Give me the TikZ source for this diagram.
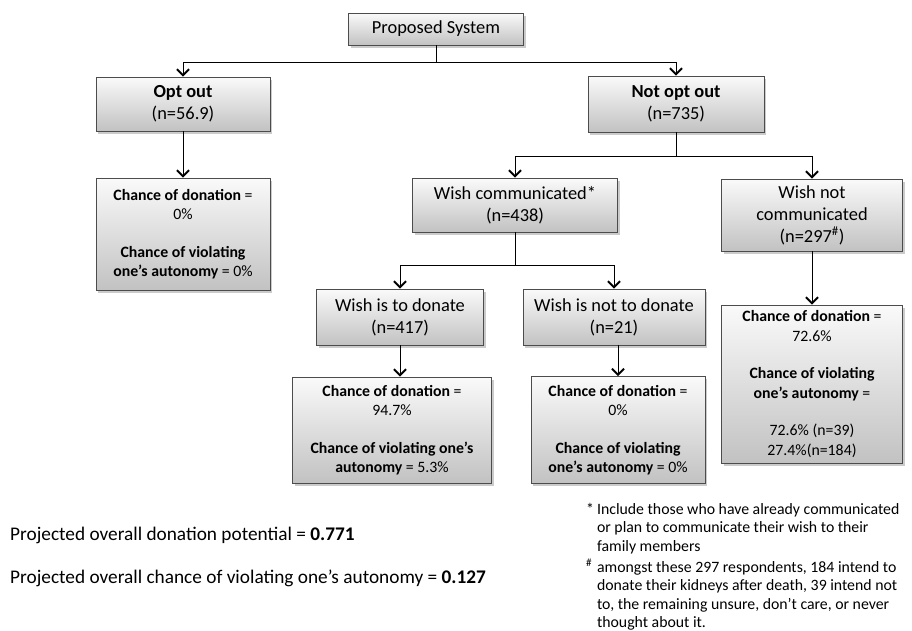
\documentclass[tikz,border=0pt]{standalone}
\usepackage{fontspec}
\setmainfont{Carlito}
\usetikzlibrary{arrows.meta, shadows}

\begin{document}
\begin{tikzpicture}[x=1pt, y=-1pt,
    box/.style={rectangle, draw=black!70, line width=0.8pt, top color=gray!4, bottom color=gray!48, align=center, inner sep=2pt, drop shadow={shadow xshift=2pt, shadow yshift=-2.5pt, fill=black!40}, font=\fontsize{18.4}{22}\selectfont},
    result/.style={box, font=\fontsize{15.8}{19}\selectfont},
    arr/.style={-{Straight Barb[length=6pt, width=12pt, line width=2pt]}, line width=1pt},
    summary/.style={anchor=west, inner sep=0pt, font=\fontsize{19.3}{23}\selectfont}]

\useasboundingbox[fill=white] (0,0) rectangle (912,630);

% Nodes
\node [box, minimum width=175, minimum height=32] (prop) at (436,29) {Proposed System};
\node [box, minimum width=174, minimum height=54] (optout) at (183,104) {\textbf{Opt out}\\(n=56.9)};
\node [box, minimum width=176, minimum height=56] (notopt) at (676,104) {\textbf{Not opt out}\\(n=735)};

\node [result, minimum width=174, minimum height=112] (chleft) at (183,234)
    {\textbf{Chance of donation} =\\0\%\\[19pt]\textbf{Chance of violating}\\\textbf{one's autonomy} = 0\%};

\node [box, minimum width=205, minimum height=54] (wcomm) at (515,205) {Wish communicated*\\(n=438)};
\node [box, minimum width=181, minimum height=72] (wnot) at (812,215) {Wish not\\communicated\\(n=297\textsuperscript{\#})};

\node [box, minimum width=167, minimum height=56] (wdon) at (400,317) {Wish is to donate\\(n=417)};
\node [box, minimum width=182, minimum height=56] (wnotdon) at (614,317) {Wish is not to donate\\(n=21)};

\node [result, minimum width=199, minimum height=106] (chdon) at (392,430)
    {\textbf{Chance of donation} =\\94.7\%\\[19pt]\textbf{Chance of violating one's}\\\textbf{autonomy} = 5.3\%};
\node [result, minimum width=174, minimum height=107] (chnotdon) at (618,430)
    {\textbf{Chance of donation} =\\0\%\\[19pt]\textbf{Chance of violating}\\\textbf{one's autonomy} = 0\%};
\node [result, minimum width=181, minimum height=158, font=\fontsize{15.8}{20.5}\selectfont] (chright) at (812,384)
    {\textbf{Chance of donation} =\\72.6\%\\[16pt]\textbf{Chance of violating}\\\textbf{one's autonomy} =\\[16pt]72.6\% (n=39)\\27.4\%(n=184)};

% Summary and notes
\node [summary] (donpot) at (10,535) {Projected overall donation potential = \textbf{0.771}};
\node [summary] (violate) at (10,578) {Projected overall chance of violating one's autonomy = \textbf{0.127}};

\node [anchor=north west, inner sep=0pt, font=\fontsize{15.8}{18.6}\selectfont] (notes) at (586,501)
    {\begin{tabular}{@{}l@{\hspace{3pt}}l@{}}
    * & Include those who have already communicated\\
      & or plan to communicate their wish to their\\
      & family members\\[2pt]
    \textsuperscript{\#} & amongst these 297 respondents, 184 intend to\\
      & donate their kidneys after death, 39 intend not\\
      & to, the remaining unsure, don't care, or never\\
      & thought about it.
    \end{tabular}};

% Arrows
\draw [arr] (prop.south) -- ++(0,17) -| (optout.north);
\draw [arr] (prop.south) -- ++(0,17) -| (notopt.north);
\draw [arr] (optout.south) -- (chleft.north);

\draw [arr] (notopt.south) -- ++(0,24) -| (wcomm.north);
\draw [arr] (notopt.south) -- ++(0,24) -| (wnot.north);
\draw [arr] (wnot.south) -- (chright.north);

\draw [arr] (wcomm.south) -- ++(0,33) -| (wdon.north);
\draw [arr] (wcomm.south) -- ++(0,33) -| (wnotdon.north);
\draw [arr] (wdon.south) -- (wdon.south |- chdon.north);
\draw [arr] (chnotdon.north |- wnotdon.south) -- (chnotdon.north);

\end{tikzpicture}
\end{document}
